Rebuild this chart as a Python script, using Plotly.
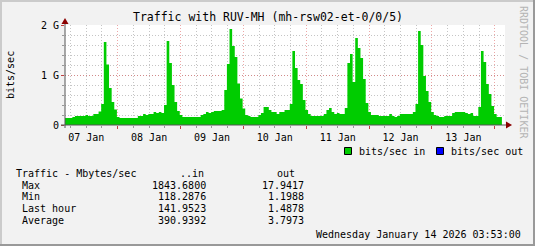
import pandas as pd
import plotly.graph_objects as go

# ---------------- data ----------------
# hourly "bits/sec in" values in Gbit/s, starting Jan 7 ~03:42
traffic_in_g = [
    0.14, 0.14, 0.14, 0.16, 0.18, 0.18, 0.18, 0.18, 0.20, 0.18, 0.18, 0.22, 0.22, 0.27,
    0.42, 1.66, 1.21, 0.74, 0.46, 0.31, 0.16,
    0.14, 0.14, 0.14, 0.14, 0.14, 0.14, 0.14, 0.18, 0.18, 0.22, 0.20, 0.22, 0.22,
    0.26, 0.24, 0.26, 0.24, 0.40, 1.68, 1.24, 0.80, 0.46, 0.28, 0.20,
    0.16, 0.16, 0.16, 0.16, 0.16, 0.16, 0.16, 0.20, 0.22, 0.26, 0.24, 0.26, 0.28,
    0.28, 0.28, 0.30, 0.70, 1.22, 1.92, 1.58, 1.36, 0.83, 0.53, 0.33, 0.20,
    0.18, 0.16, 0.16, 0.16, 0.20, 0.24, 0.36, 0.36, 0.30, 0.26, 0.26, 0.22, 0.26,
    0.26, 0.30, 0.30, 0.42, 1.48, 1.14, 0.90, 0.82, 0.50, 0.30, 0.22,
    0.18, 0.18, 0.18, 0.18, 0.18, 0.22, 0.30, 0.34, 0.26, 0.22, 0.24, 0.22, 0.22,
    0.34, 1.24, 1.42, 0.86, 1.74, 1.54, 1.34, 0.92, 0.44, 0.26,
    0.20, 0.20, 0.20, 0.18, 0.18, 0.18, 0.18, 0.22, 0.18, 0.16, 0.18,
    0.22, 0.22, 0.22, 0.22, 0.22, 0.26, 0.42, 1.88, 1.60, 0.98, 0.68, 0.46, 0.26,
    0.20, 0.18, 0.16, 0.16, 0.18, 0.18, 0.18, 0.24, 0.26, 0.26, 0.26, 0.26,
    0.24, 0.22, 0.24, 0.18, 0.18, 0.36, 1.48, 1.26, 0.82, 0.62, 0.38, 0.22,
    0.16, 0.16,
]
series_start = "2026-01-07 03:42"
range_start = "2026-01-07 03:53"
range_end = "2026-01-14 03:53"

y_tick_vals = [0, 1e9, 2e9]
y_tick_text = ["0", "1 G", "2 G"]

title_text = "Traffic with RUV-MH (mh-rsw02-et-0/0/5)"
ylabel_text = "bits/sec"
legend_names = ["bits/sec in", "bits/sec out"]
legend_colors = ["#00CC00", "#0000FF"]

stats_header = ["Traffic - Mbytes/sec", "..in", "out"]
stats_rows = ["Max", "Min", "Last hour", "Average"]
stats_in = ["1843.6800", "118.2876", "141.9523", "390.9392"]
stats_out = ["17.9417", "1.1988", "1.4878", "3.7973"]
footer_text = "Wednesday January 14 2026 03:53:00"
side_text = "RRDTOOL / TOBI OETIKER"

# ---------------- geometry helpers ----------------
W, H = 535, 246
PL, PR, PT, PB = 65, 505, 25, 125


def fx(px):
    return (px - PL) / (PR - PL)


def fy(py):
    return (PB - py) / (PB - PT)


FONT = "DejaVu Sans Mono"

times = pd.date_range(series_start, periods=len(traffic_in_g) + 1, freq="h")
vals = [v * 1e9 for v in traffic_in_g]
vals = vals + [vals[-1]]

fig = go.Figure()
fig.add_trace(go.Scatter(
    x=times, y=vals, mode="lines", line=dict(shape="hv", width=0, color="#00CC00"),
    fill="tozeroy", fillcolor="#00CC00", hoverinfo="skip", showlegend=False,
))

minor_grid = "rgba(150,150,150,0.55)"
major_grid = "rgba(220,80,80,0.5)"

fig.update_layout(
    width=W, height=H,
    margin=dict(l=PL, r=W - PR, t=PT, b=H - PB, pad=0),
    paper_bgcolor="#F2F2F2", plot_bgcolor="#FFFFFF",
    showlegend=False,
    font=dict(family=FONT, size=10, color="#000000"),
    xaxis=dict(
        type="date", range=[range_start, range_end],
        tick0="2026-01-07", dtick=86400000, ticklabelmode="period",
        tickformat="%d %b", showgrid=True, gridcolor=major_grid, griddash="1px,2px",
        gridwidth=1, ticks="outside", ticklen=3, tickcolor="#C04040",
        zeroline=False, showline=False, fixedrange=True,
        tickfont=dict(family=FONT, size=10),
        minor=dict(dtick=21600000, showgrid=True, gridcolor=minor_grid,
                   griddash="1px,2px", ticks="outside", ticklen=2, tickcolor="#999999"),
    ),
    yaxis=dict(
        range=[0, 2e9], tickvals=y_tick_vals, ticktext=y_tick_text,
        showgrid=True, gridcolor=major_grid, griddash="1px,2px", gridwidth=1,
        ticks="outside", ticklen=3, tickcolor="#C04040",
        zeroline=False, showline=False, fixedrange=True,
        tickfont=dict(family=FONT, size=10),
        minor=dict(dtick=2e8, showgrid=True, gridcolor=minor_grid,
                   griddash="1px,2px", ticks="outside", ticklen=2, tickcolor="#999999"),
    ),
)

shapes = []
# frame shading
shapes.append(dict(type="rect", xref="paper", yref="paper", x0=fx(0), x1=fx(2), y0=fy(0), y1=fy(H),
                   line=dict(width=0), fillcolor="#CBCBCB", layer="below"))
shapes.append(dict(type="rect", xref="paper", yref="paper", x0=fx(0), x1=fx(W), y0=fy(0), y1=fy(2),
                   line=dict(width=0), fillcolor="#CBCBCB", layer="below"))
shapes.append(dict(type="rect", xref="paper", yref="paper", x0=fx(W - 2), x1=fx(W), y0=fy(0), y1=fy(H),
                   line=dict(width=0), fillcolor="#999999", layer="below"))
shapes.append(dict(type="rect", xref="paper", yref="paper", x0=fx(0), x1=fx(W), y0=fy(H - 2), y1=fy(H),
                   line=dict(width=0), fillcolor="#999999", layer="below"))
# axes
shapes.append(dict(type="line", xref="paper", yref="paper", x0=fx(61), x1=fx(507), y0=fy(125), y1=fy(125),
                   line=dict(color="#555555", width=1)))
shapes.append(dict(type="line", xref="paper", yref="paper", x0=fx(65), x1=fx(65), y0=fy(128), y1=fy(21),
                   line=dict(color="#555555", width=1)))
# arrows
shapes.append(dict(type="path", xref="paper", yref="paper",
                   path=f"M {fx(506)},{fy(121.5)} L {fx(512)},{fy(125)} L {fx(506)},{fy(128.5)} Z",
                   fillcolor="#8B0000", line=dict(width=0)))
shapes.append(dict(type="path", xref="paper", yref="paper",
                   path=f"M {fx(61.5)},{fy(24)} L {fx(65)},{fy(18)} L {fx(68.5)},{fy(24)} Z",
                   fillcolor="#8B0000", line=dict(width=0)))
# legend boxes
for x0, c in zip([344.5, 436.5], legend_colors):
    shapes.append(dict(type="rect", xref="paper", yref="paper", x0=fx(x0), x1=fx(x0 + 7),
                       y0=fy(154.5), y1=fy(147.5), fillcolor=c, line=dict(color="#000000", width=1)))
fig.update_layout(shapes=shapes)

ann = []


def text(px, py, s, anchor="left", size=10, color="#000000", angle=0):
    ann.append(dict(xref="paper", yref="paper", x=fx(px), y=fy(py), text=s, showarrow=False,
                    xanchor=anchor, yanchor="middle", textangle=angle,
                    font=dict(family=FONT, size=size, color=color), borderpad=0))


text(268, 17, title_text, anchor="center", size=11.5)
text(10, 75, ylabel_text, anchor="center", angle=-90)
text(524, 72, side_text, anchor="center", color="#B4B4B4", angle=90)
text(357.5, 151, legend_names[0])
text(449.5, 151, legend_names[1])
text(15, 173, stats_header[0])
text(204.5, 173, stats_header[1], anchor="right")
text(295.5, 173, stats_header[2], anchor="right")
for i, (r, a, b) in enumerate(zip(stats_rows, stats_in, stats_out)):
    yy = 185 + i * 11.8
    text(21, yy, r)
    text(206.5, yy, a, anchor="right")
    text(304.5, yy, b, anchor="right")
text(521.5, 234, footer_text, anchor="right")
fig.update_layout(annotations=ann)

fig.write_html("out.html")
